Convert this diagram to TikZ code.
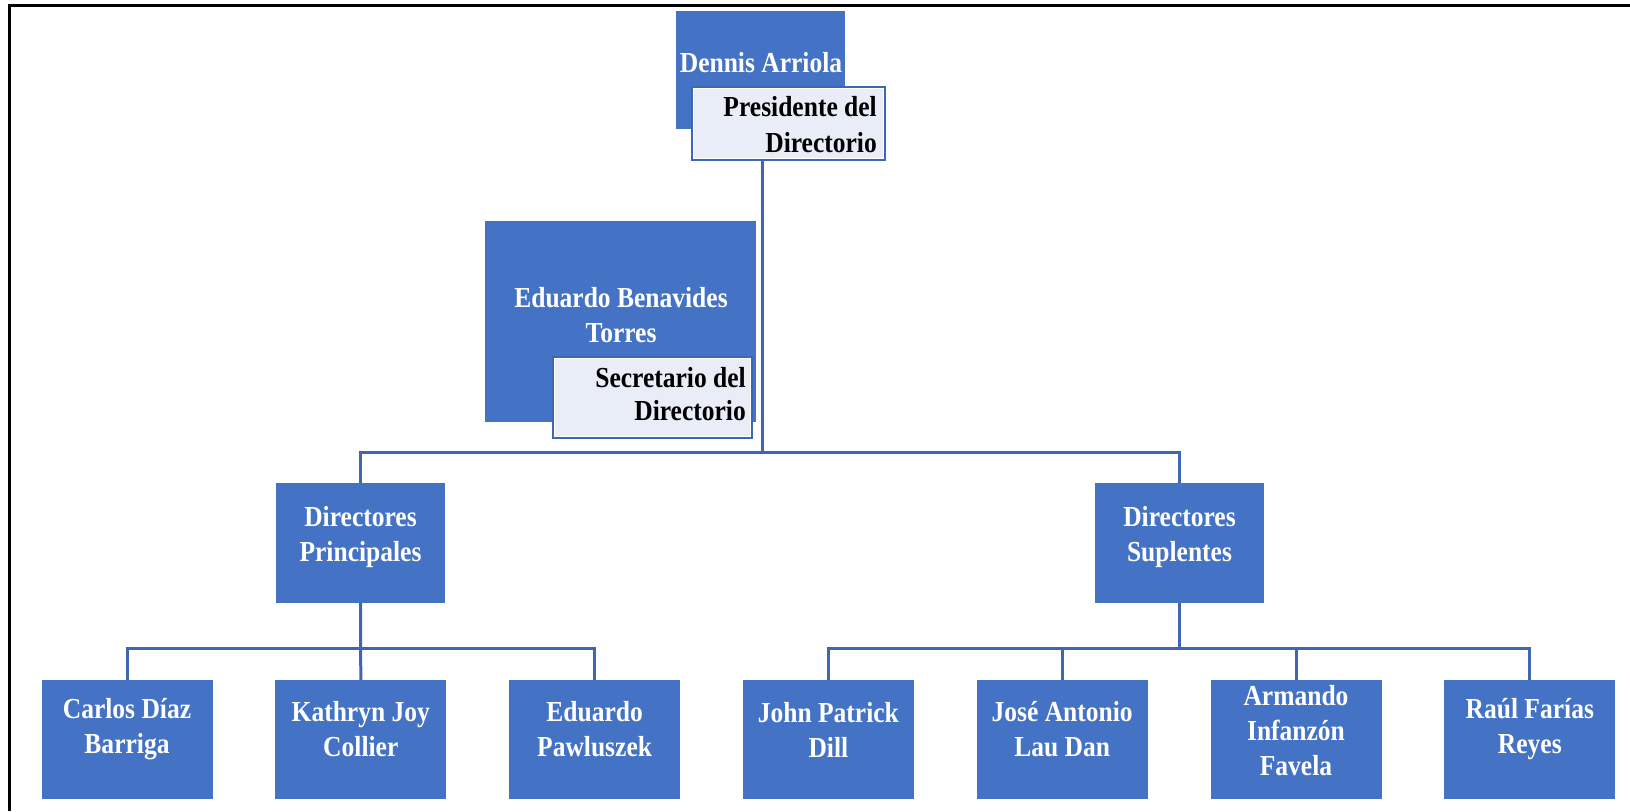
\documentclass[tikz,border=0pt]{standalone}
\usepackage{fontspec}
\newfontfamily\orgfont{Liberation Serif}[FakeStretch=0.88]
\usetikzlibrary{backgrounds}
\definecolor{boxblue}{HTML}{4472C4}
\definecolor{lineblue}{HTML}{3E66B2}
\definecolor{lightfill}{HTML}{E9EDF7}
\tikzset{
  bluebox/.style={rectangle, fill=boxblue, draw=none, inner sep=0pt},
  subbox/.style={rectangle, fill=white, draw=lineblue, line width=2pt, inner sep=0pt},
  wtxt/.style={text=white, align=center, inner sep=0pt, font=\orgfont\bfseries\fontsize{29}{35}\selectfont},
  btxt/.style={text=black, align=right, inner sep=0pt, anchor=east},
  conn/.style={draw=lineblue, line width=3pt}
}
\begin{document}
\begin{tikzpicture}[x=1pt, y=-1pt]
\useasboundingbox (0,0) rectangle (1630,811);
% frame
\draw[black, line width=2.5pt] (9.5,811) -- (9.5,5.5) -- (1630,5.5);

% top: president
\node[bluebox, minimum width=169pt, minimum height=118pt] (dennis) at (760.5,70) {};
\node[wtxt] (dennisT) at (761,63) {Dennis Arriola};
\node[subbox, minimum width=193pt, minimum height=73pt] (pres) at (788.5,123.5) {};
\fill[lightfill] ([shift={(3,3)}]pres.north west) rectangle ([shift={(-3,-3)}]pres.south east);
\node[btxt, font=\orgfont\bfseries\fontsize{29}{36}\selectfont] (presT) at (877,125) {Presidente del\\Directorio};

% secretary
\node[bluebox, minimum width=271pt, minimum height=201pt] (eduardo) at (620.5,321.5) {};
\node[wtxt] (eduardoT) at (621,315) {Eduardo Benavides\\Torres};
\node[subbox, minimum width=199pt, minimum height=81pt] (secr) at (652.5,397.5) {};
\fill[lightfill] ([shift={(3,3)}]secr.north west) rectangle ([shift={(-3,-3)}]secr.south east);
\node[btxt, font=\orgfont\bfseries\fontsize{29}{33}\selectfont] (secrT) at (746,394) {Secretario del\\Directorio};

% directors groups
\node[bluebox, minimum width=169pt, minimum height=120pt] (dp) at (360.5,543) {};
\node[wtxt] (dpT) at (360.5,537) {Directores\\Principales};
\node[bluebox, minimum width=169pt, minimum height=120pt] (ds) at (1179.5,543) {};
\node[wtxt] (dsT) at (1179.5,537) {Directores\\Suplentes};

% bottom row
\node[bluebox, minimum width=171pt, minimum height=119pt] (carlos) at (127,739.5) {};
\node[bluebox, minimum width=171pt, minimum height=119pt] (kathryn) at (360.8,739.5) {};
\node[bluebox, minimum width=171pt, minimum height=119pt] (pawl) at (594.6,739.5) {};
\node[bluebox, minimum width=171pt, minimum height=119pt] (john) at (828.4,739.5) {};
\node[bluebox, minimum width=171pt, minimum height=119pt] (jose) at (1062.2,739.5) {};
\node[bluebox, minimum width=171pt, minimum height=119pt] (armando) at (1296,739.5) {};
\node[bluebox, minimum width=171pt, minimum height=119pt] (raul) at (1529.8,739.5) {};
\node[wtxt] (carlosT) at (127,729.5) {Carlos Díaz\\Barriga};
\node[wtxt] (kathrynT) at (360.8,729.5) {Kathryn Joy\\Collier};
\node[wtxt] (pawlT) at (594.6,729.5) {Eduardo\\Pawluszek};
\node[wtxt] (johnT) at (828.4,729.5) {John Patrick\\Dill};
\node[wtxt] (joseT) at (1062.2,729.5) {José Antonio\\Lau Dan};
\node[wtxt] (armandoT) at (1296,730.5) {Armando\\Infanzón\\Favela};
\node[wtxt] (raulT) at (1529.8,729.5) {Raúl Farías\\Reyes};

\coordinate (bus) at (762,453);
\begin{scope}[on background layer]
\draw[conn] (pres.south -| bus) -- (bus);
\draw[conn] (dp.north) -- ++(0,-30) -| (ds.north);
\draw[conn] (dp.south) -- (kathryn.north);
\draw[conn] (carlos.north) -- ++(0,-31) -| (pawl.north);
\draw[conn] (ds.south) -- ++(0,46);
\draw[conn] (john.north) -- ++(0,-31) -| (raul.north);
\draw[conn] (jose.north) -- ++(0,-31);
\draw[conn] (armando.north) -- ++(0,-31);
\end{scope}
\end{tikzpicture}
\end{document}
